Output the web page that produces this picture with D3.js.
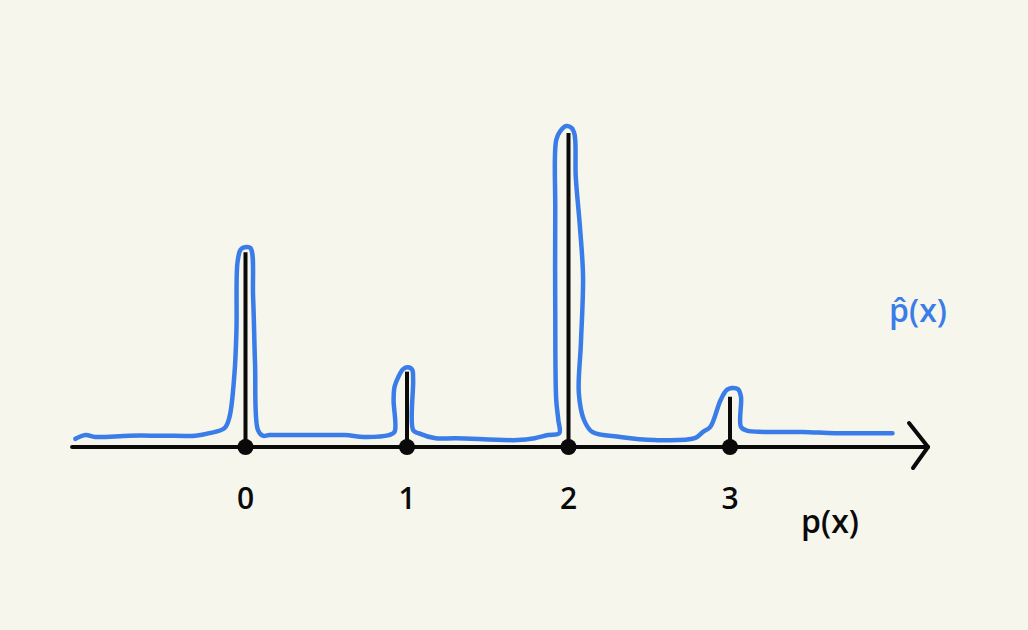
<!DOCTYPE html>
<html>
<head>
<meta charset="utf-8">
<script src="https://cdn.jsdelivr.net/npm/d3@7"></script>
<style>
  html, body { margin: 0; padding: 0; background: #f6f6ec; }
  svg { display: block; }
</style>
</head>
<body>
<svg id="chart" width="1028" height="630"></svg>
<script>
// ---- data ----
const categories = [0, 1, 2, 3];               // x values of the point masses
const probabilities = [0.31, 0.12, 0.50, 0.08]; // stem heights p(x)
const tickLabels = ["0", "1", "2", "3"];
const axisLabel = "p(x)";
const curveLabel = "p\u0302(x)";

// estimated density p̂(x): x positions and heights
const curveX = [-1.053, -0.991, -0.929, -0.718, -0.514, -0.310, -0.223, -0.130, -0.099, -0.068,
  -0.056, -0.050, -0.031, -0.006, 0.030, 0.047, 0.059, 0.077, 0.107, 0.148,
  0.414, 0.615, 0.734, 0.888, 0.923, 0.917, 0.923, 0.947, 0.976, 1.006,
  1.032, 1.038, 1.038, 1.070, 1.177, 1.304, 1.684, 1.791, 1.873, 1.943,
  1.937, 1.924, 1.918, 1.918, 1.924, 1.949, 1.987, 2.019, 2.038, 2.045,
  2.071, 2.090, 2.077, 2.064, 2.096, 2.147, 2.321, 2.532, 2.782, 2.833,
  2.878, 2.942, 2.981, 3.012, 3.050, 3.068, 3.068, 3.105, 3.211, 3.449,
  3.653, 4.006];
const curveY = [0.013, 0.019, 0.016, 0.018, 0.018, 0.018, 0.022, 0.030, 0.048, 0.118,
  0.186, 0.293, 0.314, 0.318, 0.317, 0.239, 0.134, 0.027, 0.018, 0.019,
  0.019, 0.019, 0.016, 0.019, 0.024, 0.075, 0.096, 0.112, 0.124, 0.127,
  0.123, 0.107, 0.027, 0.022, 0.014, 0.014, 0.011, 0.014, 0.019, 0.022,
  0.043, 0.075, 0.218, 0.377, 0.489, 0.503, 0.511, 0.508, 0.497, 0.430,
  0.350, 0.271, 0.166, 0.086, 0.043, 0.024, 0.016, 0.011, 0.014, 0.024,
  0.032, 0.075, 0.091, 0.094, 0.092, 0.080, 0.032, 0.026, 0.024, 0.024,
  0.022, 0.022];

const axisDomain = [-1.074, 4.226];

// ---- drawing ----
const svg = d3.select("#chart");
const ink = "#0a0a0a";
const blue = "#3a7de9";

const x = d3.scaleLinear().domain([0, 3]).range([245.5, 730]);
const y = d3.scaleLinear().domain([0, 0.5]).range([447, 133]);

// axis line with arrow
const y0 = y(0);
svg.append("line")
  .attr("x1", x(axisDomain[0])).attr("x2", x(axisDomain[1]))
  .attr("y1", y0).attr("y2", y0)
  .attr("stroke", ink).attr("stroke-width", 4).attr("stroke-linecap", "round");
const xe = x(axisDomain[1]);
svg.append("path")
  .attr("d", `M${xe - 19},${y0 - 24} L${xe},${y0} L${xe - 15},${y0 + 21}`)
  .attr("fill", "none").attr("stroke", ink).attr("stroke-width", 4)
  .attr("stroke-linecap", "round").attr("stroke-linejoin", "round");

// estimated density curve
const pts = curveX.map((v, i) => [v, curveY[i]]);
const line = d3.line()
  .x(d => x(d[0])).y(d => y(d[1]))
  .curve(d3.curveCatmullRom.alpha(0.5));
svg.append("path")
  .attr("d", line(pts))
  .attr("fill", "none").attr("stroke", blue).attr("stroke-width", 4.5)
  .attr("stroke-linecap", "round").attr("stroke-linejoin", "round");

// stems
svg.selectAll("line.stem").data(categories).join("line")
  .attr("class", "stem")
  .attr("x1", d => x(d)).attr("x2", d => x(d))
  .attr("y1", y0).attr("y2", (d, i) => y(probabilities[i]))
  .attr("stroke", ink).attr("stroke-width", 4);

// dots
svg.selectAll("circle.dot").data(categories).join("circle")
  .attr("class", "dot")
  .attr("cx", d => x(d)).attr("cy", y0).attr("r", 8)
  .attr("fill", ink);

// tick labels
svg.selectAll("text.tick").data(categories).join("text")
  .attr("class", "tick")
  .attr("x", d => x(d)).attr("y", y0 + 62)
  .attr("text-anchor", "middle")
  .attr("font-family", "'Open Sans', sans-serif")
  .attr("font-weight", 600)
  .attr("font-size", 30)
  .attr("fill", ink)
  .text((d, i) => tickLabels[i]);

// axis label
svg.append("text")
  .attr("x", 830).attr("y", 533)
  .attr("text-anchor", "middle")
  .attr("font-family", "'Open Sans', sans-serif")
  .attr("font-weight", 600)
  .attr("font-size", 32)
  .attr("fill", ink)
  .text(axisLabel);

// curve label
svg.append("text")
  .attr("x", 918).attr("y", 322)
  .attr("text-anchor", "middle")
  .attr("font-family", "'Open Sans', sans-serif")
  .attr("font-weight", 600)
  .attr("font-size", 32)
  .attr("fill", blue)
  .text(curveLabel);
</script>
</body>
</html>
